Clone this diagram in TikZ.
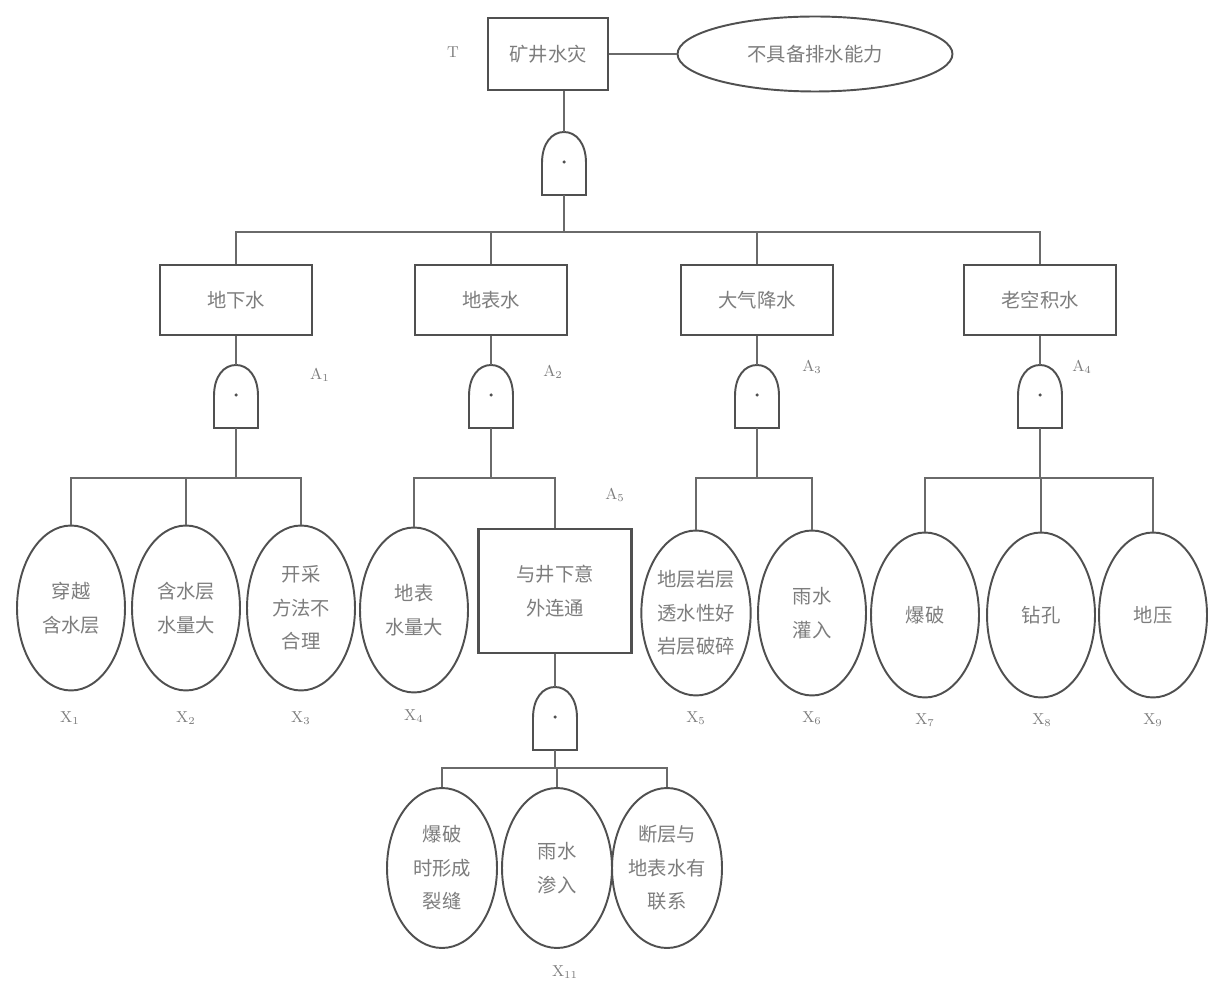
\documentclass[tikz,border=0pt]{standalone}
\usepackage{fontspec}
\newfontfamily\cjk{Noto Sans CJK SC}
\usetikzlibrary{shapes.geometric}
\definecolor{ln}{RGB}{80,80,80}
\definecolor{tx}{RGB}{125,125,125}
\tikzset{
  evt/.style={draw=ln, line width=1.5pt, fill=white, inner sep=0pt, align=center, text=tx,
    font=\cjk\fontsize{11pt}{19pt}\selectfont},
  lvl/.style={evt, minimum width=3.04cm, minimum height=1.4cm},
  basic/.style={ellipse, draw=ln, line width=1.1pt, fill=white, inner sep=0pt, align=center, text=tx,
    minimum width=2.16cm, minimum height=3.3cm, font=\cjk\fontsize{11pt}{19pt}\selectfont},
  conn/.style={draw=ln!85, line width=1.3pt},
  gatestyle/.style={draw=ln, line width=1.1pt, fill=white},
  lab/.style={text=tx, font=\small}
}
\newcommand\andgate[3]{%
  \draw[gatestyle] (#2-22,#3) -- (#2-22,#3-32) .. controls (#2-22,#3-52) and (#2-12,#3-63) .. (#2,#3-63)
     .. controls (#2+12,#3-63) and (#2+22,#3-52) .. (#2+22,#3-32) -- (#2+22,#3) -- cycle;
  \fill[ln] (#2,#3-33) circle (0.035cm);
  \coordinate (#1t) at (#2,#3-63);
  \coordinate (#1b) at (#2,#3);
}
\begin{document}
\begin{tikzpicture}[x=0.02cm,y=-0.02cm]
\useasboundingbox (0,0) rectangle (1213,982);
\fill[white] (0,0) rectangle (1213,982);

% top event
\node[evt, minimum width=2.4cm, minimum height=1.44cm] (T) at (548,54) {矿井水灾};
\node[basic, minimum width=5.5cm, minimum height=1.5cm] (C) at (815,54) {不具备排水能力};
\draw[conn] (T.east) -- (C.west);
\node[lab] (Tl) at (453,52) {T};

\andgate{g0}{564}{195}
\draw[conn] (T.south -| g0t) -- (g0t);

% level 2
\coordinate (bus0) at (0,232);
\node[lvl] (A1) at (236,300) {地下水};
\node[lvl] (A2) at (491,300) {地表水};
\node[lvl] (A3) at (757,300) {大气降水};
\node[lvl] (A4) at (1040,300) {老空积水};
\draw[conn] (A1.north) -- (A1.north |- bus0) -- (A4.north |- bus0) -- (A4.north);
\draw[conn] (A2.north) -- (A2.north |- bus0);
\draw[conn] (A3.north) -- (A3.north |- bus0);
\draw[conn] (g0b) -- (g0b |- bus0);
\node[lab] (A1l) at (320,375) {A$_1$};
\node[lab] (A2l) at (553,372) {A$_2$};
\node[lab] (A3l) at (812,367) {A$_3$};
\node[lab] (A4l) at (1082,367) {A$_4$};

\andgate{g1}{236}{428}
\andgate{g2}{491}{428}
\andgate{g3}{757}{428}
\andgate{g4}{1040}{428}
\draw[conn] (A1.south) -- (g1t);
\draw[conn] (A2.south) -- (g2t);
\draw[conn] (A3.south) -- (g3t);
\draw[conn] (A4.south) -- (g4t);

% level 3
\coordinate (bus1) at (0,478);
\node[basic] (X1) at (71,608) {穿越\\含水层};
\node[basic] (X2) at (186,608) {含水层\\水量大};
\node[basic] (X3) at (301,608) {开采\\方法不\\合理};
\node[basic] (X4) at (414,610) {地表\\水量大};
\node[evt, minimum width=3.06cm, minimum height=2.48cm] (A5) at (555,591) {与井下意\\外连通};
\node[basic] (X5) at (696,613) {地层岩层\\透水性好\\岩层破碎};
\node[basic] (X6) at (812,613) {雨水\\灌入};
\node[basic] (X7) at (925,615) {爆破};
\node[basic] (X8) at (1041,615) {钻孔};
\node[basic] (X9) at (1153,615) {地压};

\draw[conn] (g1b) -- (g1b |- bus1);
\draw[conn] (X1.north) -- (X1.north |- bus1) -- (X3.north |- bus1) -- (X3.north);
\draw[conn] (X2.north) -- (X2.north |- bus1);
\draw[conn] (g2b) -- (g2b |- bus1);
\draw[conn] (X4.north) -- (X4.north |- bus1) -- (A5.north |- bus1) -- (A5.north);
\draw[conn] (g3b) -- (g3b |- bus1);
\draw[conn] (X5.north) -- (X5.north |- bus1) -- (X6.north |- bus1) -- (X6.north);
\draw[conn] (g4b) -- (g4b |- bus1);
\draw[conn] (X7.north) -- (X7.north |- bus1) -- (X9.north |- bus1) -- (X9.north);
\draw[conn] (X8.north) -- (X8.north |- bus1);

\node[lab] (X1l) at (70,718) {X$_1$};
\node[lab] (X2l) at (186,718) {X$_2$};
\node[lab] (X3l) at (301,718) {X$_3$};
\node[lab] (X4l) at (414,716) {X$_4$};
\node[lab] (X5l) at (696,718) {X$_5$};
\node[lab] (X6l) at (812,718) {X$_6$};
\node[lab] (X7l) at (925,720) {X$_7$};
\node[lab] (X8l) at (1042,720) {X$_8$};
\node[lab] (X9l) at (1153,720) {X$_9$};
\node[lab] (A5l) at (615,495) {A$_5$};

% level 4
\andgate{g5}{555}{750}
\draw[conn] (A5.south) -- (g5t);
\coordinate (bus2) at (0,768);
\node[basic, minimum width=2.2cm, minimum height=3.2cm] (Y1) at (442,868) {爆破\\时形成\\裂缝};
\node[basic, minimum width=2.2cm, minimum height=3.2cm] (Y2) at (557,868) {雨水\\渗入};
\node[basic, minimum width=2.2cm, minimum height=3.2cm] (Y3) at (667,868) {断层与\\地表水有\\联系};
\draw[conn] (g5b) -- (g5b |- bus2);
\draw[conn] (Y1.north) -- (Y1.north |- bus2) -- (Y3.north |- bus2) -- (Y3.north);
\draw[conn] (Y2.north) -- (Y2.north |- bus2);
\node[lab] (Y2l) at (565,972) {X$_{11}$};
\end{tikzpicture}
\end{document}
